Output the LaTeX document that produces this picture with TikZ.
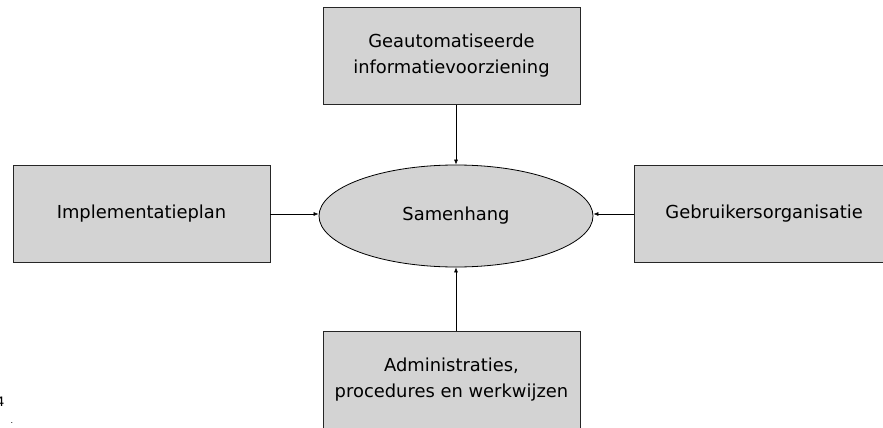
\documentclass[tikz,border=0pt]{standalone}
\usepackage{fontspec}
\setmainfont{DejaVu Sans}
\usetikzlibrary{shapes.geometric,arrows.meta}
\definecolor{boxgray}{RGB}{211,211,211}
\begin{document}
\begin{tikzpicture}[x=1pt,y=-1pt,
  block/.style={draw=black!85,line width=0.9pt,fill=boxgray,minimum width=257pt,minimum height=97pt,
    align=center,font=\fontsize{17.9}{26}\selectfont,inner sep=0pt},
  hub/.style={ellipse,draw=black,line width=0.8pt,fill=boxgray,minimum width=274pt,minimum height=102pt,
    font=\fontsize{17.9}{26}\selectfont,inner sep=0pt},
  link/.style={draw=black,line width=0.6pt,-{Latex[length=5pt,width=4pt]}}]
\useasboundingbox (0,0) rectangle (883,428);
\clip (0,0) rectangle (883,428);
% central ellipse and the four surrounding boxes
\node[hub] (sam) at (456,216) {Samenhang};
\node[block] (top) at (451.5,56) {Geautomatiseerde\\informatievoorziening};
\node[block] (left) at (141.5,214) {Implementatieplan};
\node[block,anchor=west,minimum width=258pt,text width=196pt,align=left] (right) at (634,214) {Gebruikersorganisatie};
\node[block] (bot) at (451.5,379.5) {Administraties,\\procedures en werkwijzen};
% connectors into the ellipse
\draw[link] (top.south -| sam.north) -- (sam.north);
\draw[link] (bot.north -| sam.south) -- (sam.south);
\draw[link] (left.east) -- (left.east -| sam.west);
\draw[link] (right.west) -- (right.west -| sam.east);
\node[anchor=east,font=\fontsize{13}{13}\selectfont,inner sep=0pt] (fig) at (4.5,402) {4};
\node[font=\fontsize{8}{8}\selectfont,inner sep=0pt] (dot) at (12,423) {.};
\end{tikzpicture}
\end{document}
